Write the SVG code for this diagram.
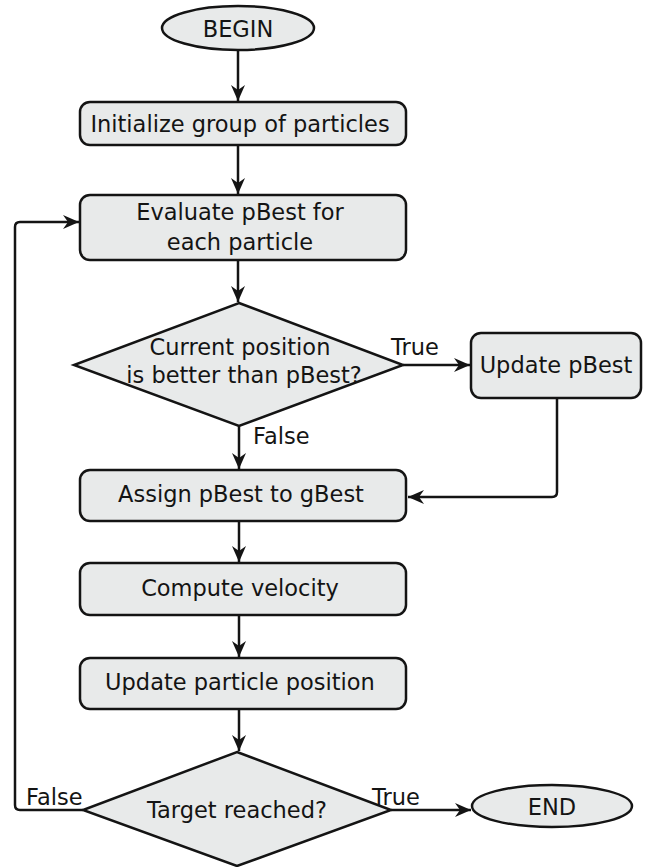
<svg xmlns="http://www.w3.org/2000/svg" width="648" height="867" viewBox="0 0 648 867">
<style>
.shape{fill:#e8eaea;stroke:#141414;stroke-width:2.5}
.t{font-family:"DejaVu Sans",Verdana,sans-serif;font-size:22.5px;fill:#141414;text-anchor:middle;dominant-baseline:central}
.lbl{font-family:"DejaVu Sans",Verdana,sans-serif;font-size:22.5px;fill:#141414}
.c{fill:none;stroke:#141414;stroke-width:2.5}
</style>
<defs>
<marker id="arr" markerUnits="userSpaceOnUse" markerWidth="18" markerHeight="14" refX="16" refY="7" orient="auto">
<path d="M0,0 L16,7 L0,14 L5,7 z" fill="#141414"/>
</marker>
</defs>
<rect width="648" height="867" fill="#ffffff"/>
<g id="connectors">
<path class="c" d="M238,50 V101" marker-end="url(#arr)"/>
<path class="c" d="M238,145 V194" marker-end="url(#arr)"/>
<path class="c" d="M238,260 V302" marker-end="url(#arr)"/>
<path class="c" d="M403,365 H470" marker-end="url(#arr)"/>
<path class="c" d="M239,426 V469" marker-end="url(#arr)"/>
<path class="c" d="M557,398 V492 Q557,497 552,497 H408" marker-end="url(#arr)"/>
<path class="c" d="M239,521 V562" marker-end="url(#arr)"/>
<path class="c" d="M239,615 V657" marker-end="url(#arr)"/>
<path class="c" d="M239,709 V751" marker-end="url(#arr)"/>
<path class="c" d="M83,810 H20 Q15,810 15,805 V227 Q15,222 20,222 H79" marker-end="url(#arr)"/>
<path class="c" d="M391,810 H471" marker-end="url(#arr)"/>
<text class="lbl" x="391" y="355">True</text>
<text class="lbl" x="253" y="444">False</text>
<text class="lbl" x="26" y="805">False</text>
<text class="lbl" x="372" y="805">True</text>
</g>
<g id="begin">
<ellipse class="shape" cx="238" cy="28" rx="76" ry="22"/>
<text class="t" x="238" y="29">BEGIN</text>
</g>
<g id="init">
<rect class="shape" x="80" y="102" width="326" height="43" rx="10"/>
<text class="t" x="240" y="124">Initialize group of particles</text>
</g>
<g id="evaluate">
<rect class="shape" x="80" y="195" width="326" height="65" rx="10"/>
<text class="t" x="240" y="212">Evaluate pBest for</text>
<text class="t" x="240" y="242">each particle</text>
</g>
<g id="decision1">
<polygon class="shape" points="239,303 403,365 239,426 74,365"/>
<text class="t" x="240" y="347">Current position</text>
<text class="t" x="244" y="375">is better than pBest?</text>
</g>
<g id="updatepbest">
<rect class="shape" x="471" y="333" width="170" height="65" rx="10"/>
<text class="t" x="556" y="365">Update pBest</text>
</g>
<g id="assign">
<rect class="shape" x="80" y="470" width="326" height="51" rx="10"/>
<text class="t" x="241" y="494">Assign pBest to gBest</text>
</g>
<g id="velocity">
<rect class="shape" x="80" y="563" width="326" height="52" rx="10"/>
<text class="t" x="240" y="588">Compute velocity</text>
</g>
<g id="position">
<rect class="shape" x="80" y="658" width="326" height="51" rx="10"/>
<text class="t" x="240" y="682">Update particle position</text>
</g>
<g id="decision2">
<polygon class="shape" points="237,752 391,810 237,866 83,810"/>
<text class="t" x="237" y="810">Target reached?</text>
</g>
<g id="end">
<ellipse class="shape" cx="552" cy="806" rx="80" ry="21"/>
<text class="t" x="552" y="807">END</text>
</g>
</svg>
